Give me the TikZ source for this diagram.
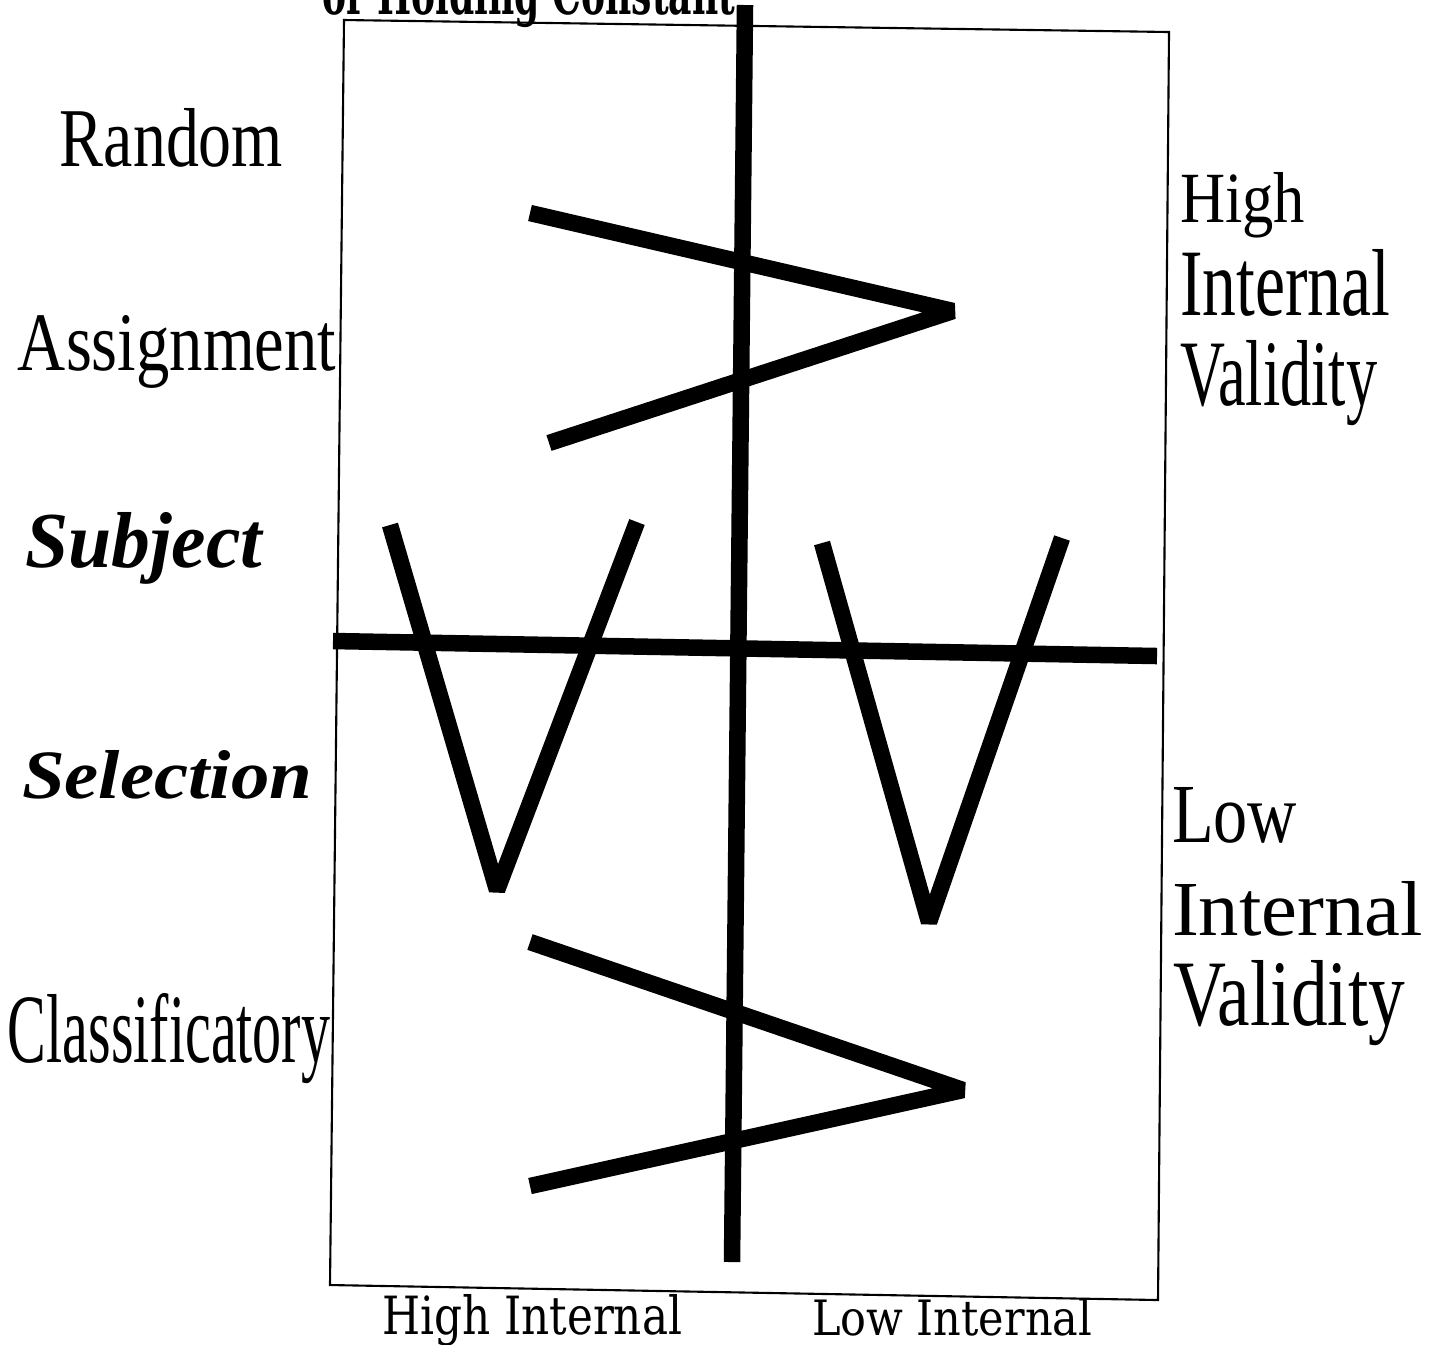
\documentclass[tikz,border=0pt]{standalone}
\usepackage{fontspec}
\setmainfont{Liberation Serif}
\newfontfamily\slabfont{DejaVu Serif}
\newcommand{\fitlab}[3]{\resizebox{#1}{#2}{#3}}
\begin{document}
\begin{tikzpicture}[x=0.01cm,y=-0.01cm,
  heavy/.style={line width=0.165cm, line cap=butt, line join=miter, miter limit=2},
  frame/.style={line width=0.6pt},
  lab/.style={anchor=base west, inner sep=0pt, outer sep=0pt},
  slab/.style={lab, font=\slabfont}]
\useasboundingbox (0,0) rectangle (1443,1344);
% frame corners
\coordinate (f1) at (344,20);
\coordinate (f2) at (1169,32);
\coordinate (f3) at (1158,1300);
\coordinate (f4) at (330,1285);
% axes
\coordinate (vt) at (745,5);
\coordinate (vb) at (732,1262);
\coordinate (hl) at (333,641);
\coordinate (hr) at (1157,656);
% upper Z
\coordinate (z1a) at (530,213);
\coordinate (z1b) at (953,311);
\coordinate (z1c) at (549,443);
% left V
\coordinate (v1a) at (390,525);
\coordinate (v1b) at (497,890);
\coordinate (v1c) at (637,522);
% right V
\coordinate (v2a) at (822,543);
\coordinate (v2b) at (929,922);
\coordinate (v2c) at (1062,538);
% lower Z
\coordinate (z2a) at (530,942);
\coordinate (z2b) at (963,1090);
\coordinate (z2c) at (530,1186);

\draw[frame] (f1) -- (f2) -- (f3) -- (f4) -- cycle;
\draw[heavy] (vt) -- (vb);
\draw[heavy] (hl) -- (hr);
\draw[heavy] (z1a) -- (z1b) -- (z1c);
\draw[heavy] (v1a) -- (v1b) -- (v1c);
\draw[heavy] (v2a) -- (v2b) -- (v2c);
\draw[heavy] (z2a) -- (z2b) -- (z2c);

% left labels
\node[lab] (random) at (60,166) {\fitlab{2.23cm}{0.58cm}{Random}};
\node[lab] (assign) at (18,370) {\fitlab{3.18cm}{0.55cm}{Assignment}};
\node[lab] (subject) at (25,567) {\fitlab{2.37cm}{0.55cm}{\bfseries\itshape Subject}};
\node[lab] (selection) at (22,798) {\fitlab{2.90cm}{0.48cm}{\bfseries\itshape Selection}};
\node[lab] (classif) at (8,1062) {\fitlab{3.22cm}{0.69cm}{Classificatory}};
% right labels
\node[lab] (hhigh) at (1180,222) {\fitlab{1.25cm}{0.50cm}{High}};
\node[lab] (hint) at (1180,315) {\fitlab{2.10cm}{0.66cm}{Internal}};
\node[lab] (hval) at (1180,405) {\fitlab{1.97cm}{0.65cm}{Validity}};
\node[lab] (llow) at (1172,842) {\fitlab{1.25cm}{0.55cm}{Low}};
\node[lab] (lint) at (1172,935) {\fitlab{2.51cm}{0.54cm}{Internal}};
\node[lab] (lval) at (1173,1025) {\fitlab{2.32cm}{0.65cm}{Validity}};
% bottom labels
\node[slab] (bhigh) at (382,1334) {\fitlab{3.00cm}{0.40cm}{High Internal}};
\node[slab] (blow) at (812,1335) {\fitlab{2.80cm}{0.37cm}{Low Internal}};
% top (cut off in the reference) label
\node[slab] (top) at (322,14) {\fitlab{4.13cm}{0.45cm}{\bfseries or Holding Constant}};
\end{tikzpicture}
\end{document}
